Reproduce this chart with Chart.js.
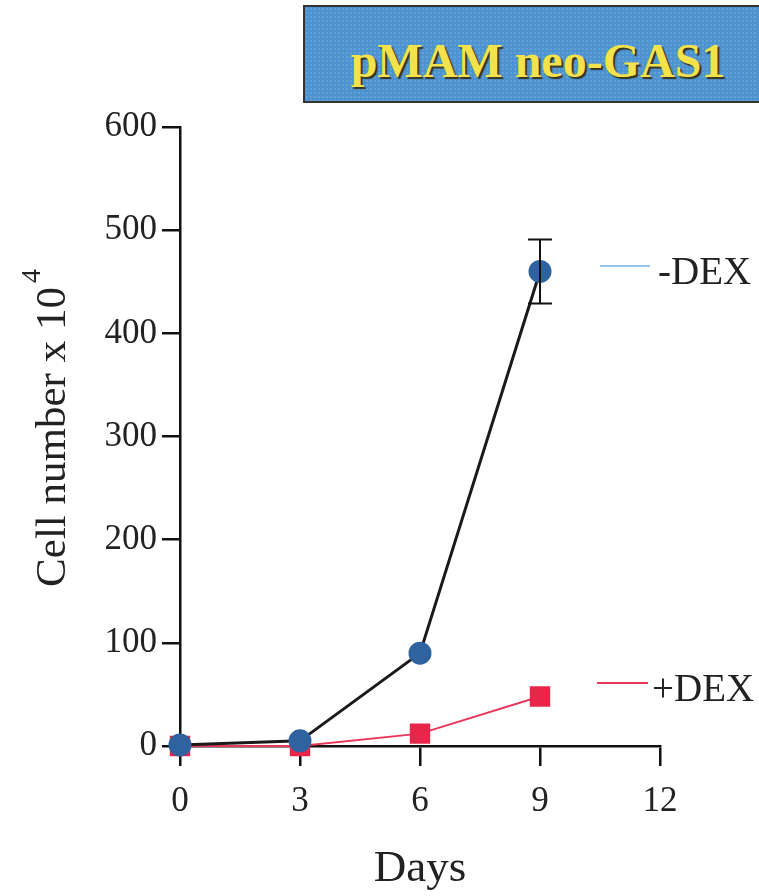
<!DOCTYPE html>
<html>
<head>
<meta charset="utf-8">
<script src="https://cdn.jsdelivr.net/npm/chart.js@4"></script>
<style>
  html, body { margin: 0; padding: 0; background: #fff; }
  #wrap { position: relative; width: 759px; height: 896px; overflow: hidden; }
  #chart { position: absolute; left: 0; top: 0; }
  .title-box {
    position: absolute; left: 303px; top: 5px; width: 480px; height: 98px;
    box-sizing: border-box; border: 2px solid #333;
    background: #4c93d0;
    background-image: radial-gradient(rgba(255,255,255,0.12) 1px, transparent 1px);
    background-size: 4px 4px;
  }
  .title-box span {
    position: absolute; left: 0; width: 466px; top: 26px; text-align: center;
    font: bold 48px "Liberation Serif", "DejaVu Serif", serif;
    color: #f3e24c; text-shadow: 2px 2px 1px #3a3320;
  }
</style>
</head>
<body>
<div id="wrap">
  <canvas id="chart" width="759" height="896"></canvas>
  <div class="title-box"><span>pMAM neo-GAS1</span></div>
</div>
<script>
document.addEventListener('DOMContentLoaded', function () {
    // Data
    const days = [0, 3, 6, 9];
    const minusDex = [1, 5, 90, 460];
    const minusDexErr = [0, 0, 0, 31];
    const plusDex = [0, 0, 12, 48];
    const xTicks = [0, 3, 6, 9, 12];
    const yTicks = [0, 100, 200, 300, 400, 500, 600];

    const serif = '"Liberation Serif", "DejaVu Serif", serif';

    const toPoints = (vals) => days.map((d, i) => ({ x: d, y: vals[i] }));

    // Error bars, side labels and the y axis title
    const extras = {
        id: 'extras',
        afterDatasetsDraw(chart) {
            const ctx = chart.ctx;
            const xs = chart.scales.x, ys = chart.scales.y;
            ctx.save();
            ctx.strokeStyle = '#111';
            ctx.lineWidth = 2;
            days.forEach((d, i) => {
                const e = minusDexErr[i];
                if (!e) return;
                const px = xs.getPixelForValue(d);
                const top = ys.getPixelForValue(minusDex[i] + e);
                const bot = ys.getPixelForValue(minusDex[i] - e);
                ctx.beginPath();
                ctx.moveTo(px, top); ctx.lineTo(px, bot);
                ctx.moveTo(px - 12, top); ctx.lineTo(px + 12, top);
                ctx.moveTo(px - 12, bot); ctx.lineTo(px + 12, bot);
                ctx.stroke();
            });

            // series labels at the right of the last points
            ctx.font = '39px ' + serif;
            ctx.fillStyle = '#222';
            ctx.textBaseline = 'middle';
            ctx.textAlign = 'left';
            ctx.lineWidth = 1.5;
            ctx.strokeStyle = '#6bb2ea';
            ctx.beginPath(); ctx.moveTo(600, 266); ctx.lineTo(650, 266); ctx.stroke();
            ctx.fillText('-DEX', 658, 274);
            ctx.lineWidth = 2;
            ctx.strokeStyle = '#e8375a';
            ctx.beginPath(); ctx.moveTo(597, 683); ctx.lineTo(648, 683); ctx.stroke();
            ctx.fillText('+DEX', 652, 691);

            // y axis title with superscript
            ctx.translate(54, 428);
            ctx.rotate(-Math.PI / 2);
            ctx.font = '43px ' + serif;
            const main = 'Cell number x 10';
            const w = ctx.measureText(main).width;
            ctx.font = '28px ' + serif;
            const sw = ctx.measureText('4').width;
            const start = -(w + sw + 4) / 2;
            ctx.font = '43px ' + serif;
            ctx.textAlign = 'left';
            ctx.fillText(main, start, 0);
            ctx.font = '28px ' + serif;
            ctx.fillText('4', start + w + 4, -21);
            ctx.restore();
        }
    };

    const ctx = document.getElementById('chart').getContext('2d');
    new Chart(ctx, {
        type: 'line',
        data: {
            datasets: [
                {
                    label: '-DEX',
                    data: toPoints(minusDex),
                    borderColor: '#1a1a1a',
                    borderWidth: 3,
                    backgroundColor: '#2f639f',
                    pointBackgroundColor: '#2f639f',
                    pointBorderColor: '#2f639f',
                    pointStyle: 'circle',
                    pointRadius: 10,
                    clip: false
                },
                {
                    label: '+DEX',
                    data: toPoints(plusDex),
                    borderColor: '#e8375a',
                    borderWidth: 2,
                    backgroundColor: '#e8264a',
                    pointBackgroundColor: '#e8264a',
                    pointBorderColor: '#e8264a',
                    pointStyle: 'rect',
                    pointRadius: 13,
                    clip: false
                }
            ]
        },
        options: {
            responsive: false,
            animation: false,
            layout: { padding: { top: 127, right: 99, left: 0, bottom: 0 } },
            plugins: {
                legend: { display: false },
                tooltip: { enabled: false }
            },
            scales: {
                x: {
                    type: 'linear',
                    min: 0,
                    max: 12,
                    afterFit: (s) => { s.height = 150; },
                    afterBuildTicks: (s) => { s.ticks = xTicks.map(v => ({ value: v })); },
                    border: { color: '#111', width: 2.5 },
                    grid: { drawOnChartArea: false, drawTicks: true, tickLength: 20, color: '#111', lineWidth: 2.5 },
                    ticks: { color: '#222', padding: 15, font: { family: serif, size: 35 } },
                    title: {
                        display: true, text: 'Days', color: '#222',
                        font: { family: serif, size: 45 },
                        padding: { top: 0, bottom: 0 }
                    }
                },
                y: {
                    min: 0,
                    max: 600,
                    afterFit: (s) => { s.width = 180; },
                    afterBuildTicks: (s) => { s.ticks = yTicks.map(v => ({ value: v })); },
                    border: { color: '#111', width: 2.5 },
                    grid: { drawOnChartArea: false, drawTicks: true, tickLength: 18, color: '#111', lineWidth: 2.5 },
                    ticks: { color: '#222', padding: 5, font: { family: serif, size: 35 } }
                }
            }
        },
        plugins: [extras]
    });
});
</script>
</body>
</html>
